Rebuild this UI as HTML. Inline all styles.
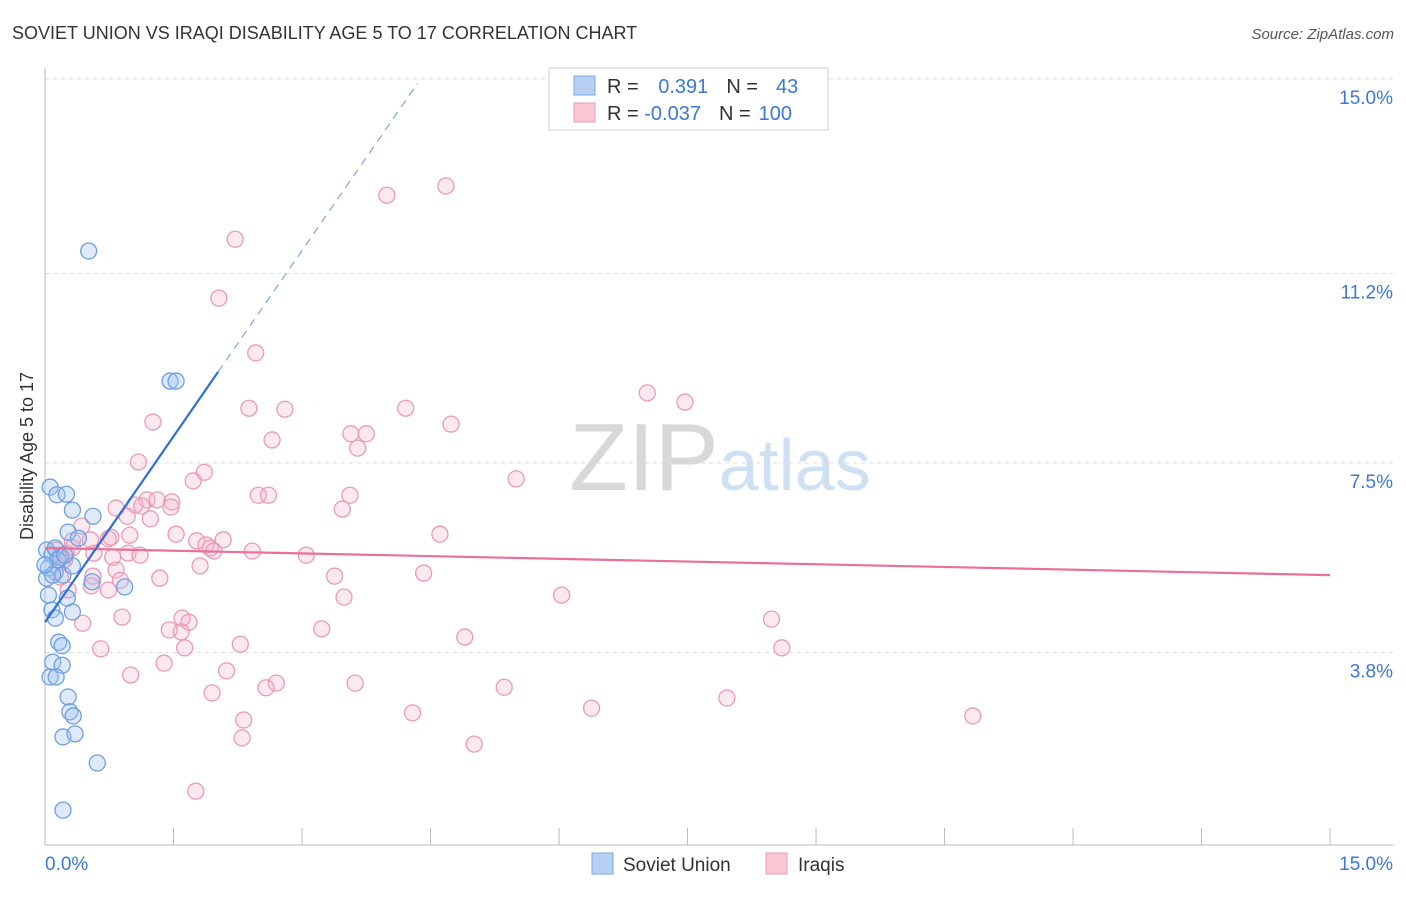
<!DOCTYPE html>
<html><head><meta charset="utf-8"><style>
body{margin:0;background:#fff;font-family:"Liberation Sans",sans-serif;}
svg text{font-family:"Liberation Sans",sans-serif;}
</style></head><body>
<svg width="1406" height="892" xmlns="http://www.w3.org/2000/svg" id="chart">
<text x="12" y="39" font-size="18" fill="#333">SOVIET UNION VS IRAQI DISABILITY AGE 5 TO 17 CORRELATION CHART</text>
<text x="1394" y="39" font-size="15" fill="#555" text-anchor="end" font-style="italic">Source: ZipAtlas.com</text>
<text x="720" y="490" font-size="96" text-anchor="middle" fill="#ddd" font-family="Liberation Serif"><tspan fill="#d8d8d8">ZIP</tspan><tspan fill="#cfe0f5" font-family="Liberation Sans" font-size="72">atlas</tspan></text>
<g id="grid"></g>
<g id="axes"></g>
<text transform="translate(33,456) rotate(-90)" font-size="18" fill="#333" text-anchor="middle">Disability Age 5 to 17</text>
<g id="pts"></g>
<g id="lines"></g>
<g>
<rect x="549" y="68" width="279" height="62" fill="#fff" stroke="#ccc"/>
<rect x="574" y="76" width="21" height="19" fill="#b7d0f3" stroke="#7aa7e3"/>
<rect x="574" y="103" width="21" height="19" fill="#f9c6d6" stroke="#eb9ab6"/>
<text x="607" y="93" font-size="20" fill="#333">R = <tspan fill="#3b78d8" dx="14">0.391</tspan><tspan dx="18">N =</tspan><tspan fill="#3b78d8" dx="18">43</tspan></text>
<text x="607" y="120" font-size="20" fill="#333">R = <tspan fill="#3b78d8">-0.037</tspan><tspan dx="18">N =</tspan><tspan fill="#3b78d8" dx="8">100</tspan></text>
</g>
<g>
<rect x="592" y="853" width="21" height="21" fill="#b7d0f3" stroke="#7aa7e3"/>
<text x="623" y="871" font-size="19" fill="#333">Soviet Union</text>
<rect x="766" y="853" width="21" height="21" fill="#f9c6d6" stroke="#eb9ab6"/>
<text x="798" y="871" font-size="19" fill="#333">Iraqis</text>
</g>
</svg>
<script>
const yTicks=[3.8,7.5,11.2,15.0];
const yTickLabels=["3.8%","7.5%","11.2%","15.0%"];
const blueX=[0.06,0.14,0.25,0.32,0.56,0.27,0.39,0.02,0.08,0.18,0.04,0.12,0.21,0.32,0.02,0.09,0.55,0.93,0.26,0.32,0.08,0.12,0.16,0.20,0.09,0.20,0.06,0.13,0.27,0.29,0.33,0.21,0.35,0.61,0.21,0.51,1.46,1.53,0.04,0.12,0.15,0.00,0.23];
const blueY=[7.03,6.88,6.89,6.58,6.46,6.15,6.03,5.80,5.70,5.66,5.45,5.37,5.31,5.49,5.25,5.31,5.18,5.08,4.86,4.59,4.63,4.47,4.00,3.93,3.61,3.55,3.32,3.32,2.93,2.64,2.56,2.15,2.21,1.64,0.72,11.64,9.10,9.10,4.92,5.84,5.61,5.51,5.70];
const pinkX=[4.68,3.99,2.22,2.03,2.46,7.03,7.47,2.38,2.80,4.21,1.26,4.74,3.57,3.75,2.65,3.65,1.09,1.86,5.50,1.73,2.49,2.61,3.56,1.19,1.31,1.48,0.83,1.05,1.13,1.47,3.47,0.96,1.23,4.61,1.53,0.74,0.99,0.43,0.77,0.32,1.77,2.08,1.88,1.93,2.42,1.97,3.05,0.97,0.79,1.11,0.57,0.25,0.13,0.23,0.20,1.81,0.83,0.56,1.34,3.38,4.42,0.18,0.54,0.74,3.49,6.03,0.27,0.90,1.60,1.45,1.68,1.59,3.23,0.44,8.48,4.90,2.28,0.65,1.63,8.60,1.39,2.12,1.00,2.70,3.62,2.58,5.36,1.95,7.96,4.29,6.38,10.83,2.32,2.30,5.01,1.76,0.18,0.32,0.53,0.88];
const pinkY=[12.91,12.73,11.87,10.72,9.65,8.87,8.69,8.57,8.55,8.57,8.30,8.26,8.07,8.07,7.95,7.79,7.52,7.32,7.19,7.15,6.87,6.87,6.87,6.78,6.78,6.74,6.62,6.68,6.66,6.64,6.60,6.46,6.41,6.11,6.11,6.02,6.09,6.27,6.05,5.98,5.98,6.00,5.90,5.84,5.78,5.78,5.70,5.74,5.66,5.70,5.74,5.74,5.80,5.61,5.57,5.49,5.41,5.29,5.25,5.29,5.35,5.27,5.10,5.02,4.88,4.92,5.02,4.49,4.47,4.24,4.39,4.20,4.26,4.37,4.45,4.10,3.96,3.87,3.89,3.89,3.59,3.44,3.36,3.20,3.20,3.11,3.12,3.01,2.91,2.62,2.71,2.56,2.48,2.13,2.01,1.09,5.70,5.84,6.00,5.21];
const pinkTrend=[5.84,5.31];
const blueTrend=[4.39,2.42];
const NS="http://www.w3.org/2000/svg";
const sx=v=>45+v*85.67, sy=v=>847-v*51.2;
function mk(t,a,p){const e=document.createElementNS(NS,t);for(const k in a)e.setAttribute(k,a[k]);p.appendChild(e);return e;}
const grid=document.getElementById('grid'),axes=document.getElementById('axes');
yTicks.forEach((v,i)=>{
 const l=mk('line',{x1:45,x2:1393,y1:sy(v),y2:sy(v),stroke:'#ddd','stroke-dasharray':'4,4'},grid);
 
 
 const t=mk('text',{x:1393,y:sy(v)+25,'font-size':19,fill:'#3b78d8','text-anchor':'end'},grid);
 t.textContent=yTickLabels[i];
 
 
});
mk('line',{x1:45,x2:45,y1:68,y2:845,stroke:'#bbb'},axes);
mk('line',{x1:45,x2:1393,y1:845,y2:845,stroke:'#bbb'},axes);
for(let i=0;i<=10;i++){const x=sx(i*1.5);const l=mk('line',{x1:x,x2:x,y1:828,y2:845,stroke:'#bbb'},axes);
 
 }
const x0=mk('text',{x:45,y:870,'font-size':19,fill:'#3b78d8'},axes);x0.textContent='0.0%';


const x1=mk('text',{x:1393,y:870,'font-size':19,fill:'#3b78d8','text-anchor':'end'},axes);x1.textContent='15.0%';


const pts=document.getElementById('pts');
pinkX.forEach((v,i)=>{const c=mk('circle',{cx:sx(v),cy:sy(pinkY[i]),r:8,fill:'rgba(246,180,202,0.3)',stroke:'#eb9ab6','stroke-width':1.3},pts);
 
 });
blueX.forEach((v,i)=>{const c=mk('circle',{cx:sx(v),cy:sy(blueY[i]),r:8,fill:'rgba(160,195,240,0.35)',stroke:'#6e9fe0','stroke-width':1.3},pts);
 
 });
const lines=document.getElementById('lines');
const pl=mk('line',{x1:sx(0),y1:sy(pinkTrend[0]),x2:sx(15),y2:sy(pinkTrend[1]),stroke:'#e8709a','stroke-width':2.2},lines);


const bs=mk('line',{x1:sx(0),y1:sy(blueTrend[0]),x2:sx(2.02),y2:sy(blueTrend[0]+blueTrend[1]*2.02),stroke:'#2f6fd6','stroke-width':2.2},lines);


const bd=mk('line',{x1:sx(2.02),y1:sy(blueTrend[0]+blueTrend[1]*2.02),x2:sx(4.35),y2:sy(blueTrend[0]+blueTrend[1]*4.35),stroke:'#7aa7e3','stroke-width':1.2,'stroke-dasharray':'8,6'},lines);


</script>
</body></html>
